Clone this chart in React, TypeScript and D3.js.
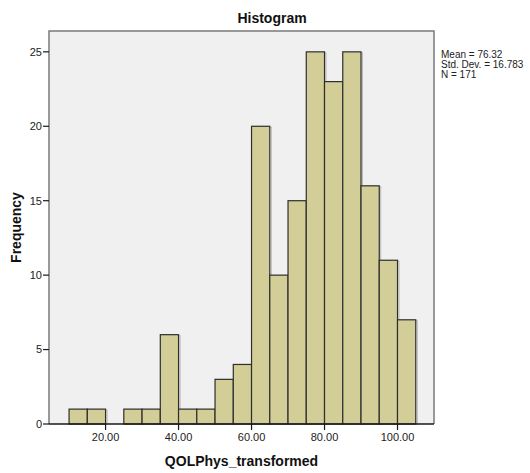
import React from "react";
import * as d3 from "d3";

const binStarts = [10, 15, 20, 25, 30, 35, 40, 45, 50, 55, 60, 65, 70, 75, 80, 85, 90, 95, 100];
const binWidth = 5;
const frequencies = [1, 1, 0, 1, 1, 6, 1, 1, 3, 4, 20, 10, 15, 25, 23, 25, 16, 11, 7];
const xTicks = [20, 40, 60, 80, 100];
const yTicks = [0, 5, 10, 15, 20, 25];
const statLines = ["Mean = 76.32", "Std. Dev. = 16.783", "N = 171"];
const title = "Histogram";
const xLabel = "QOLPhys_transformed";
const yLabel = "Frequency";

const W = 530;
const H = 473;
const left = 49;
const right = 434;
const top = 31;
const bottom = 424;

export default function App() {
  const x = d3.scaleLinear().domain([4.5, 110]).range([left, right]);
  const y = d3.scaleLinear().domain([0, 26.4]).range([bottom, top]);
  const font = "'Liberation Sans', Arial, sans-serif";
  return (
    <svg width={W} height={H} style={{ position: "absolute", left: 0, top: 0 }} fontFamily={font}>
      <rect x={0} y={0} width={W} height={H} fill="#ffffff" />
      <rect x={left} y={top} width={right - left} height={bottom - top} fill="#f0f0f0" />
      {binStarts.map((s, i) =>
        frequencies[i] > 0 ? (
          <g key={i}>
            <rect
              x={x(s) + 1.5}
              y={y(frequencies[i]) + 1}
              width={x(s + binWidth) - x(s)}
              height={bottom - y(frequencies[i]) - 1}
              fill="none"
              stroke="#b8b8b8"
              strokeWidth={1}
            />
            <rect
              x={x(s)}
              y={y(frequencies[i])}
              width={x(s + binWidth) - x(s)}
              height={bottom - y(frequencies[i])}
              fill="#d3ce97"
              stroke="#2e2e2e"
              strokeWidth={1.2}
            />
          </g>
        ) : null
      )}
      <path
        d={`M${left},${bottom} V${top} H${right} V${bottom}`}
        fill="none"
        stroke="#7a7a7a"
        strokeWidth={1.5}
      />
      <line x1={left} x2={right} y1={bottom} y2={bottom} stroke="#1a1a1a" strokeWidth={1.5} />
      {yTicks.map((t) => (
        <g key={t}>
          <line x1={left - 6} x2={left} y1={y(t)} y2={y(t)} stroke="#1a1a1a" strokeWidth={1.2} />
          <text x={left - 7} y={y(t)} dy="0.35em" textAnchor="end" fontSize={11} fill="#222">
            {t}
          </text>
        </g>
      ))}
      {xTicks.map((t) => (
        <g key={t}>
          <line x1={x(t)} x2={x(t)} y1={bottom} y2={bottom + 6} stroke="#1a1a1a" strokeWidth={1.2} />
          <text x={x(t)} y={bottom + 17} textAnchor="middle" fontSize={11} fill="#222">
            {d3.format(".2f")(t)}
          </text>
        </g>
      ))}
      <text x={272} y={23} textAnchor="middle" fontSize={14} fontWeight="bold" fill="#111">
        {title}
      </text>
      <text x={(left + right) / 2} y={466} textAnchor="middle" fontSize={14} fontWeight="bold" fill="#111">
        {xLabel}
      </text>
      <text
        transform={`translate(21,${(top + bottom) / 2}) rotate(-90)`}
        textAnchor="middle"
        fontSize={14}
        fontWeight="bold"
        fill="#111"
      >
        {yLabel}
      </text>
      {statLines.map((s, i) => (
        <text key={i} x={441} y={58 + i * 10} fontSize={10} fill="#222">
          {s}
        </text>
      ))}
    </svg>
  );
}
